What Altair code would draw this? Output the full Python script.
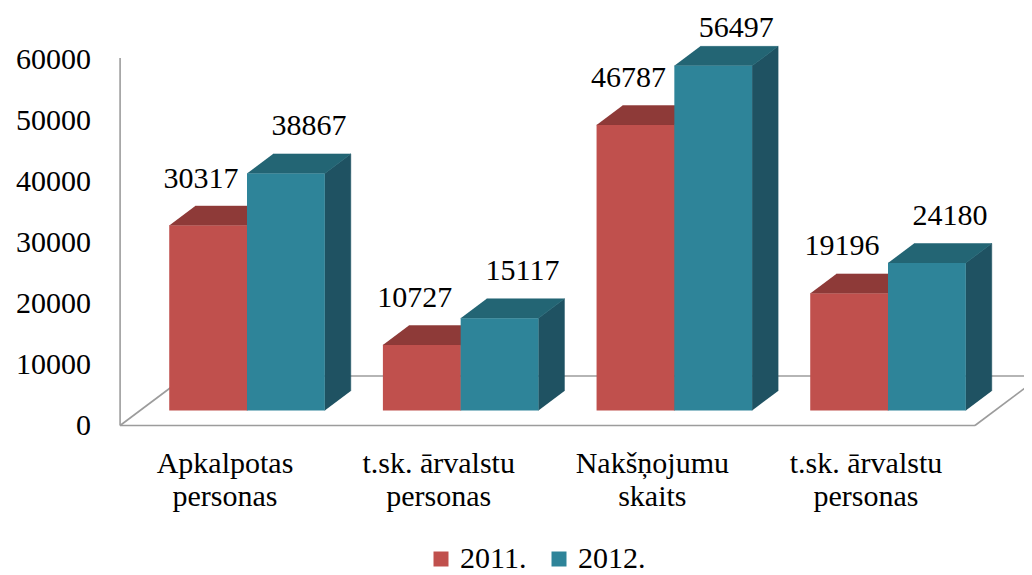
import altair as alt
import pandas as pd

# ---- data ----
categories = [["Apkalpotas", "personas"], ["t.sk. ārvalstu", "personas"],
              ["Nakšņojumu", "skaits"], ["t.sk. ārvalstu", "personas"]]
series = ["2011.", "2012."]
v2011 = [30317, 10727, 46787, 19196]
v2012 = [38867, 15117, 56497, 24180]
y_ticks = [0, 10000, 20000, 30000, 40000, 50000, 60000]

# ---- style / 3D geometry constants (in scale units) ----
FONT = "'Liberation Serif', 'Times New Roman', 'DejaVu Serif', serif"
FS = 30
BW = 0.364          # bar width in category units
DX = 0.1217         # depth offset x (category units)
DY = 3197           # depth offset y (value units)
FLOOR_FRONT = -2459
FLOOR_DEPTH_X = 0.309
FLOOR_DEPTH_Y = 8115
WALL_X = -0.594
FLOOR_RIGHT = 3.407
WALL_TOP = 57787
LABEL_CAP = 55000
colors_front = ["#C0504D", "#2E8499"]
colors_top = ["#8E3A38", "#236574"]
colors_side = ["#8A3533", "#1F5262"]

xs = alt.Scale(domain=[-1.1186, 3.6365], nice=False, zero=False)
ys = alt.Scale(domain=[-26967, 65984], nice=False, zero=False)

rows_front, rows_poly = [], []
for s_i, (s, vals) in enumerate(zip(series, [v2011, v2012])):
    for i, v in enumerate(vals):
        xl = i - BW if s_i == 0 else i
        xr = xl + BW
        bid = f"{s}-{i}"
        rows_front.append(dict(series=s, id=bid, xl=xl, xr=xr, xc=(xl + xr) / 2,
                               value=v, base=0))
        # top face polygon
        for k, (px, py) in enumerate([(xl, v), (xr, v), (xr + DX, v + DY), (xl + DX, v + DY)]):
            rows_poly.append(dict(series=s, face="top", id=bid + "-top", px=px, py=py, k=k))
        # side face polygon
        for k, (px, py) in enumerate([(xr, 0), (xr, v), (xr + DX, v + DY), (xr + DX, DY)]):
            rows_poly.append(dict(series=s, face="side", id=bid + "-side", px=px, py=py, k=k))

front = pd.DataFrame(rows_front)
poly = pd.DataFrame(rows_poly)

def rule(x1, y1, x2, y2):
    return alt.Chart(pd.DataFrame({"a": [0]})).mark_rule(
        color="#9C9C9C", strokeWidth=1.6, clip=True
    ).encode(
        x=alt.X(datum=x1, scale=xs, axis=None),
        y=alt.Y(datum=y1, scale=ys, axis=None),
        x2=alt.X2(datum=x2),
        y2=alt.Y2(datum=y2),
    )

frame = [
    rule(WALL_X, FLOOR_FRONT, WALL_X, WALL_TOP),
    rule(WALL_X, FLOOR_FRONT, FLOOR_RIGHT, FLOOR_FRONT),
    rule(WALL_X + FLOOR_DEPTH_X, FLOOR_FRONT + FLOOR_DEPTH_Y,
         FLOOR_RIGHT + FLOOR_DEPTH_X, FLOOR_FRONT + FLOOR_DEPTH_Y),
    rule(WALL_X, FLOOR_FRONT, WALL_X + FLOOR_DEPTH_X, FLOOR_FRONT + FLOOR_DEPTH_Y),
    rule(FLOOR_RIGHT, FLOOR_FRONT, FLOOR_RIGHT + FLOOR_DEPTH_X, FLOOR_FRONT + FLOOR_DEPTH_Y),
]

def face(s, fname, col):
    return alt.Chart(poly).transform_filter(
        (alt.datum.series == s) & (alt.datum.face == fname)
    ).mark_line(fill=col, stroke=col, strokeWidth=0.5, opacity=1, interpolate="linear").encode(
        x=alt.X("px:Q", scale=xs, axis=None),
        y=alt.Y("py:Q", scale=ys, axis=None),
        detail="id:N",
        order="k:Q",
    )

bars = []
for s_i, s in enumerate(series):
    front_l = alt.Chart(front).transform_filter(alt.datum.series == s).mark_rect(
        opacity=1
    ).encode(
        x=alt.X("xl:Q", scale=xs, axis=None),
        x2="xr:Q",
        y=alt.Y("value:Q", scale=ys, axis=None),
        y2="base:Q",
        color=alt.Color(
            "series:N",
            scale=alt.Scale(domain=series, range=colors_front),
            legend=alt.Legend(
                orient="none", legendX=418, legendY=536, direction="horizontal",
                title=None, symbolType="square", symbolSize=225,
                symbolStrokeWidth=0, labelFontSize=FS, labelFont=FONT,
                labelColor="black", labelOffset=4, columnPadding=17, padding=0,
                labelLimit=300,
            ),
        ),
    )
    bars += [face(s, "side", colors_side[s_i]), face(s, "top", colors_top[s_i]), front_l]

labels = []
for s_i, (s, dx) in enumerate(zip(series, [-7, 23])):
    labels.append(
        alt.Chart(front).transform_filter(alt.datum.series == s).transform_calculate(
            ly=f"min(datum.value, {LABEL_CAP})"
        ).mark_text(
            font=FONT, fontSize=FS, color="black", align="center",
            baseline="alphabetic", dx=dx, dy=-38
        ).encode(
            x=alt.X("xc:Q", scale=xs, axis=None),
            y=alt.Y("ly:Q", scale=ys, axis=None),
            text=alt.Text("value:Q", format="d"),
        )
    )

ytick_df = pd.DataFrame({"t": y_ticks})
ylab = alt.Chart(ytick_df).mark_text(
    font=FONT, fontSize=FS, color="black", align="right", baseline="middle",
    dx=-29, dy=15
).encode(
    x=alt.X(datum=WALL_X, scale=xs, axis=None),
    y=alt.Y("t:Q", scale=ys, axis=None),
    text=alt.Text("t:Q", format="d"),
)

cat_df = pd.DataFrame({"i": list(range(len(categories))), "lab": categories})
xlab = alt.Chart(cat_df).mark_text(
    font=FONT, fontSize=FS, color="black", align="center", baseline="alphabetic",
    dx=-22, dy=47, lineHeight=33
).encode(
    x=alt.X("i:Q", scale=xs, axis=None),
    y=alt.Y(datum=FLOOR_FRONT, scale=ys, axis=None),
    text="lab",
)

chart = alt.layer(*frame, *bars, *labels, ylab, xlab).properties(
    width=1016, height=567,
    autosize=alt.AutoSizeParams(type="none"),
    padding=0,
).configure_view(stroke=None)

chart.save("out.html", embed_options={"renderer": "svg", "actions": False})
